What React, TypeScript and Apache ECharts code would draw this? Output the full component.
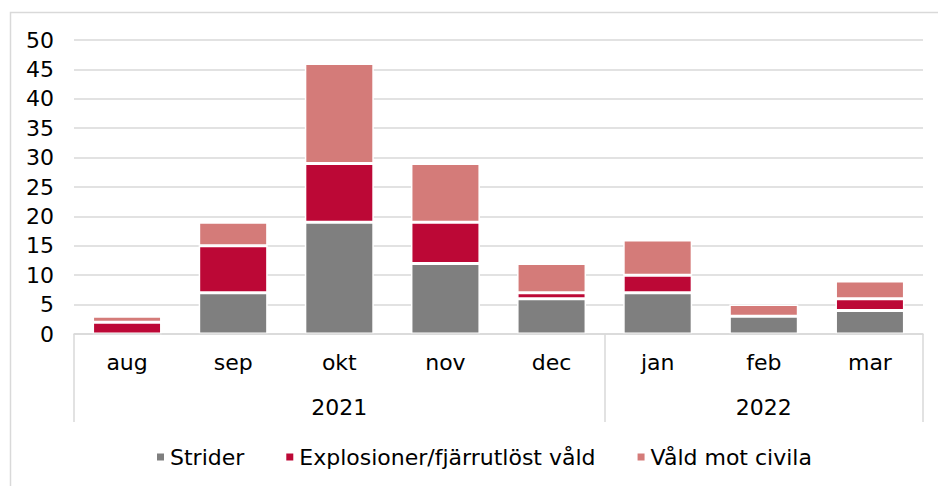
import React, { useEffect, useRef } from "react";
import * as echarts from "echarts";

const months = ["aug", "sep", "okt", "nov", "dec", "jan", "feb", "mar"];
const yearLabels = ["", "", "2021", "", "", "", "2022", ""];
const yearBoundaryIndexes = [0, 5];
const seriesNames = ["Strider", "Explosioner/fjärrutlöst våld", "Våld mot civila"];
const strider = [0, 7, 19, 12, 6, 7, 3, 4];
const explosioner = [2, 8, 10, 7, 1, 3, 0, 2];
const valdMotCivila = [1, 4, 17, 10, 5, 6, 2, 3];
const colors = ["#7F7F7F", "#BC0836", "#D47B79"];

const FONT = "DejaVu Sans";

export default function App() {
  const ref = useRef<HTMLDivElement>(null);
  useEffect(() => {
    if (!ref.current) return;
    const chart = echarts.init(ref.current, undefined, { renderer: "svg" });
    const values = [strider, explosioner, valdMotCivila];
    chart.setOption({
      animation: false,
      backgroundColor: "#ffffff",
      textStyle: { fontFamily: FONT },
      graphic: [
        {
          type: "rect",
          left: 8,
          top: 10,
          shape: { x: 0, y: 0, width: 940, height: 490 },
          style: { fill: "none", stroke: "#d9d9d9", lineWidth: 1.5 },
          silent: true,
          z: -1,
        },
      ],
      grid: { left: 74, right: 15, top: 40, bottom: 152, containLabel: false },
      legend: {
        left: 155,
        top: 446,
        padding: 0,
        itemWidth: 9,
        itemHeight: 9,
        itemGap: 40,
        icon: "rect",
        textStyle: { fontFamily: FONT, fontSize: 22, color: "#000" },
        data: seriesNames,
      },
      xAxis: [
        {
          type: "category",
          data: months,
          position: "bottom",
          axisLine: { show: true, lineStyle: { color: "#d9d9d9", width: 1.5 } },
          axisTick: { show: false },
          axisLabel: { interval: 0, margin: 17, fontFamily: FONT, fontSize: 22, color: "#000" },
          z: 5,
        },
        {
          type: "category",
          data: yearLabels,
          position: "bottom",
          axisLine: { show: false },
          axisTick: {
            show: true,
            length: 88,
            interval: (i: number) => yearBoundaryIndexes.includes(i),
            lineStyle: { color: "#d9d9d9", width: 1.5 },
          },
          axisLabel: { interval: 0, margin: 62, fontFamily: FONT, fontSize: 22, color: "#000" },
        },
      ],
      yAxis: {
        type: "value",
        min: 0,
        max: 50,
        interval: 5,
        axisLine: { show: false },
        axisTick: { show: false },
        axisLabel: { margin: 20, fontFamily: FONT, fontSize: 22, color: "#000" },
        splitLine: { lineStyle: { color: "#d9d9d9", width: 1.5 } },
      },
      series: seriesNames.map((name, i) => ({
        name,
        type: "bar",
        stack: "total",
        xAxisIndex: 0,
        data: values[i],
        barCategoryGap: "35%",
        itemStyle: { color: colors[i], borderColor: "#ffffff", borderWidth: 1.5 },
      })),
    });
    return () => chart.dispose();
  }, []);
  return (
    <div
      ref={ref}
      style={{ position: "fixed", left: 0, top: 0, width: 938, height: 486 }}
    />
  );
}
